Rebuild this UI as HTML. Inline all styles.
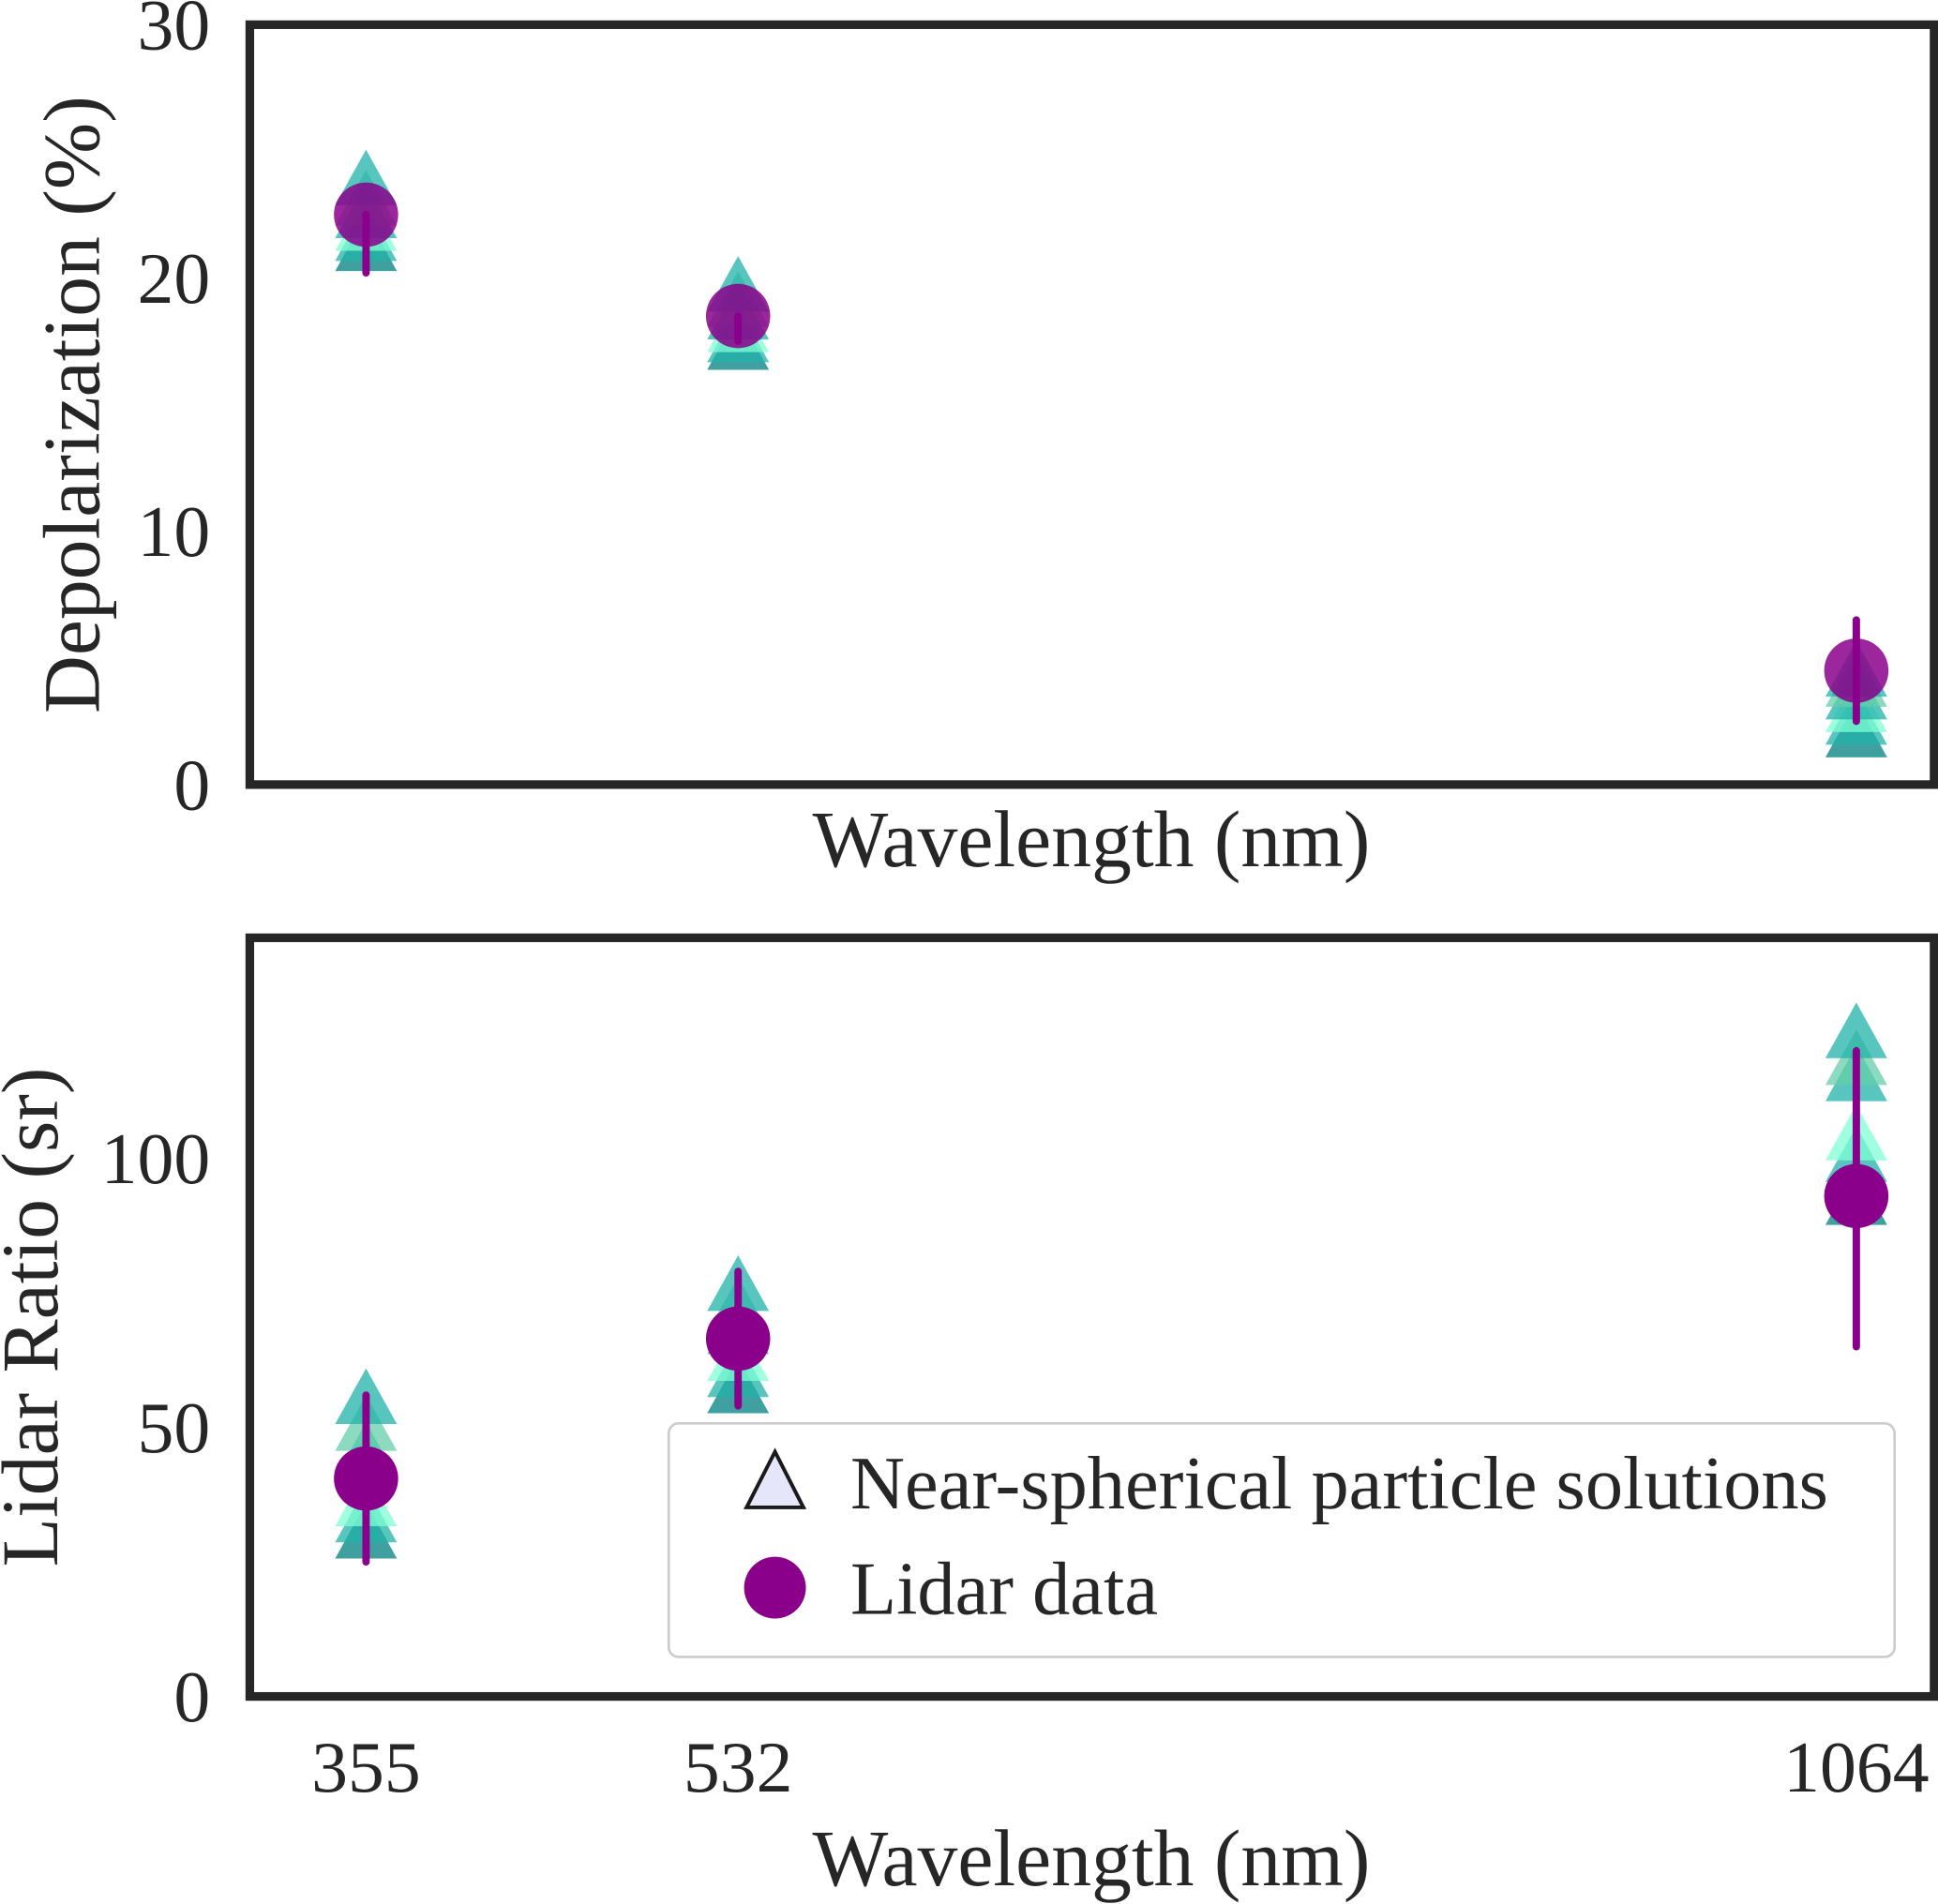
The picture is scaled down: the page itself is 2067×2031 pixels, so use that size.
<!DOCTYPE html>
<html><head><meta charset="utf-8"><style>
html,body{margin:0;padding:0;background:#fff}
svg{display:block}
text{font-family:"Liberation Serif",serif;fill:#262626}
</style></head><body>
<svg id="chart" width="2067" height="2031" viewBox="0 0 1568 1541" xmlns="http://www.w3.org/2000/svg">
<g id="top"></g>
<g id="bot"></g>
</svg>
<script>
const wavelengths=[355,532,1064];
const depolTriangles=[[21.2,21.6,22,22.5,23,23.8],[17.3,17.6,18,18.5,19,19.6],[2.0,2.5,3.0,3.5,4.0,4.4]];
const depolLidar=[22.5,18.5,4.5];
const depolErrLow=[20.2,17.5,2.5];
const depolErrHigh=[22.5,18.5,6.5];
const ratioTriangles=[[30,33,36,45,50,55],[57,60,63,68,72,76],[92,100,104,115,118,123]];
const ratioLidar=[40.5,66.5,93];
const ratioErrLow=[25,54,65];
const ratioErrHigh=[56,79,120];
const depolTicks=[0,10,20,30];
const ratioTicks=[0,50,100];
const triColors=['#008080','#20b2aa','#7fffd4','#20b2aa','#66cdaa','#20b2aa'];

const NS='http://www.w3.org/2000/svg';
function el(p,t,a,txt){const e=document.createElementNS(NS,t);for(const k in a)e.setAttribute(k,a[k]);if(txt!==undefined)e.textContent=txt;p.appendChild(e);return e;}
const X0=202,X1=1565,XMIN=299.7,XMAX=1101;
const xs=v=>X0+(v-XMIN)/(XMAX-XMIN)*(X1-X0);

function panel(g,top,bottom,ymax,tris,lid,lo,hi,ticks,ylabel,ylx,showX,alphaC,ynameBase){
  const ys=v=>bottom-v/ymax*(bottom-top);
  ticks.forEach(t=>{const e=el(g,'text',{x:170,y:ys(t)+20,'text-anchor':'end','font-size':59},String(t));
    });
  wavelengths.forEach((w,i)=>{
    tris[i].forEach((v,j)=>{const cx=xs(w),cy=ys(v);
      const p=el(g,'polygon',{points:`${cx},${cy-26} ${cx-25},${cy+19} ${cx+25},${cy+19}`,fill:triColors[j%triColors.length],'fill-opacity':0.75});
      });
    const eb=el(g,'line',{x1:xs(w),x2:xs(w),y1:ys(lo[i]),y2:ys(hi[i]),stroke:'#8b008b','stroke-width':6,'stroke-linecap':'round'});
    
    const c=el(g,'circle',{cx:xs(w),cy:ys(lid[i]),r:26,fill:'#8b008b','fill-opacity':alphaC});
    
  });
  const r=el(g,'rect',{x:X0,y:top,width:X1-X0,height:bottom-top,fill:'none',stroke:'#262626','stroke-width':7});
  
  const yl=el(g,'text',{x:0,y:0,'text-anchor':'middle','font-size':65,transform:`translate(${ylx},${(top+bottom)/2}) rotate(-90)`},ylabel);
  
  if(showX){wavelengths.forEach(w=>{const t=el(g,'text',{x:xs(w),y:bottom+77,'text-anchor':'middle','font-size':59},String(w));
    });}
  const xl=el(g,'text',{x:883,y:bottom+(showX?153:66),'text-anchor':'middle','font-size':65},'Wavelength (nm)');
  
}
const gt=document.getElementById('top'),gb=document.getElementById('bot');
panel(gt,20,635,30,depolTriangles,depolLidar,depolErrLow,depolErrHigh,depolTicks,'Depolarization (%)',80,false,0.85,'depol');
panel(gb,759,1373,141,ratioTriangles,ratioLidar,ratioErrLow,ratioErrHigh,ratioTicks,'Lidar Ratio (sr)',46,true,1,'ratio');
const lg=el(gb,'g',{});

el(lg,'rect',{x:541,y:1152,width:992,height:189,rx:8,fill:'#fff','fill-opacity':0.85,stroke:'#cccccc','stroke-width':2});
const lt=el(lg,'polygon',{points:'627,1175 604,1220 650,1220',fill:'#e6e6fa',stroke:'#1a1a1a','stroke-width':3});

const t1=el(lg,'text',{x:688,y:1221,'font-size':61},'Near-spherical particle solutions');

const lc=el(lg,'circle',{cx:627,cy:1285,r:25,fill:'#8b008b'});

const t2=el(lg,'text',{x:688,y:1306,'font-size':61},'Lidar data');

</script>
</body></html>
